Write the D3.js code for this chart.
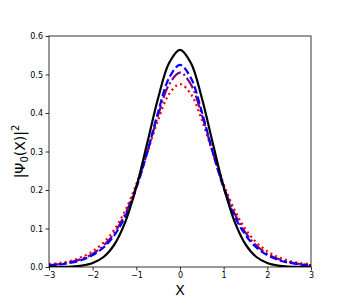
<!DOCTYPE html>
<html>
<head>
<meta charset="utf-8">
<script src="https://cdn.jsdelivr.net/npm/d3@7"></script>
<style>
  body { margin: 0; background: #fff; }
  text { font-family: "DejaVu Sans", sans-serif; }
</style>
</head>
<body>
<div id="chart"></div>
<script>
// x grid and the four |psi|^2 curves
var xs = [-3, -2.75, -2.5, -2.25, -2, -1.75, -1.5, -1.25, -1, -0.75, -0.5, -0.25, 0,
          0.25, 0.5, 0.75, 1, 1.25, 1.5, 1.75, 2, 2.25, 2.5, 2.75, 3];
var blackVals = [0.0001, 0.0003, 0.0011, 0.0036, 0.0103, 0.026, 0.059, 0.118, 0.208, 0.322, 0.439, 0.530, 0.564,
                 0.530, 0.439, 0.322, 0.208, 0.118, 0.059, 0.026, 0.0103, 0.0036, 0.0011, 0.0003, 0.0001];
var blueVals = [0.0038, 0.0065, 0.011, 0.0183, 0.031, 0.0506, 0.083, 0.132, 0.205, 0.298, 0.403, 0.491, 0.525,
                0.491, 0.403, 0.298, 0.205, 0.132, 0.083, 0.0506, 0.031, 0.0183, 0.011, 0.0065, 0.0038];
var purpleVals = [0.0047, 0.0078, 0.0128, 0.021, 0.0342, 0.0557, 0.089, 0.139, 0.209, 0.298, 0.395, 0.474, 0.505,
                  0.474, 0.395, 0.298, 0.209, 0.139, 0.089, 0.0557, 0.0342, 0.021, 0.0128, 0.0078, 0.0047];
var redVals = [0.0075, 0.0105, 0.016, 0.0257, 0.041, 0.0638, 0.098, 0.148, 0.215, 0.297, 0.382, 0.449, 0.475,
               0.449, 0.382, 0.297, 0.215, 0.148, 0.098, 0.0638, 0.041, 0.0257, 0.016, 0.0105, 0.0075];
var xTicks = [-3, -2, -1, 0, 1, 2, 3];
var yTicks = [0.0, 0.1, 0.2, 0.3, 0.4, 0.5, 0.6];

var width = 346, height = 305;
var margin = { top: 36, right: 35, bottom: 38, left: 49 };
var plotW = width - margin.left - margin.right;
var plotH = height - margin.top - margin.bottom;

var svg = d3.select("#chart")
    .append("svg")
    .attr("width", width)
    .attr("height", height);

var g = svg.append("g")
    .attr("transform", "translate(" + margin.left + "," + margin.top + ")");

var x = d3.scaleLinear().domain([-3, 3]).range([0, plotW]);
var y = d3.scaleLinear().domain([0, 0.6]).range([plotH, 0]);

g.append("clipPath").attr("id", "clip")
    .append("rect").attr("width", plotW).attr("height", plotH);

var line = d3.line()
    .x(d => x(d[0]))
    .y(d => y(d[1]))
    .curve(d3.curveCatmullRom);

var series = [
    { vals: redVals, color: "#ff0000", dash: "2,3.3" },
    { vals: purpleVals, color: "#800080", dash: "12,3,2,3" },
    { vals: blueVals, color: "#0000ff", dash: "7.4,3.2" },
    { vals: blackVals, color: "#000000", dash: null }
];

var lines = g.append("g").attr("clip-path", "url(#clip)");
series.forEach(function (s) {
    lines.append("path")
        .datum(xs.map((v, i) => [v, s.vals[i]]))
        .attr("d", line)
        .attr("fill", "none")
        .attr("stroke", s.color)
        .attr("stroke-width", 2.2)
        .attr("stroke-dasharray", s.dash);
});

// axes
var fmtX = d => d3.format("d")(d).replace("-", "\u2212");
var xAxis = g.append("g")
    .attr("transform", "translate(0," + plotH + ")")
    .call(d3.axisBottom(x).tickValues(xTicks).tickSize(3.5).tickPadding(2).tickFormat(fmtX));
var yAxis = g.append("g")
    .call(d3.axisLeft(y).tickValues(yTicks).tickSize(3.5).tickPadding(2.5).tickFormat(d3.format(".1f")));

[xAxis, yAxis].forEach(function (a) {
    a.select(".domain").remove();
    a.selectAll("text").attr("font-size", 8).attr("font-family", "DejaVu Sans").attr("fill", "#000");
    a.selectAll("line").attr("stroke", "#000").attr("stroke-width", 0.8);
});

// frame
g.append("rect")
    .attr("width", plotW)
    .attr("height", plotH)
    .attr("fill", "none")
    .attr("stroke", "#000")
    .attr("stroke-width", 0.8);

// labels
svg.append("text")
    .attr("x", margin.left + plotW / 2)
    .attr("y", height - 10)
    .attr("text-anchor", "middle")
    .attr("font-size", 14)
    .text("X");

var yl = svg.append("text")
    .attr("transform", "translate(25," + (margin.top + plotH / 2) + ") rotate(-90)")
    .attr("text-anchor", "middle")
    .attr("font-size", 14);
yl.append("tspan").text("|\u03A8");
yl.append("tspan").attr("font-size", 10).attr("dy", 3).text("0");
yl.append("tspan").attr("dy", -3).text("(X)|");
yl.append("tspan").attr("font-size", 10).attr("dy", -6).text("2");
</script>
</body>
</html>
